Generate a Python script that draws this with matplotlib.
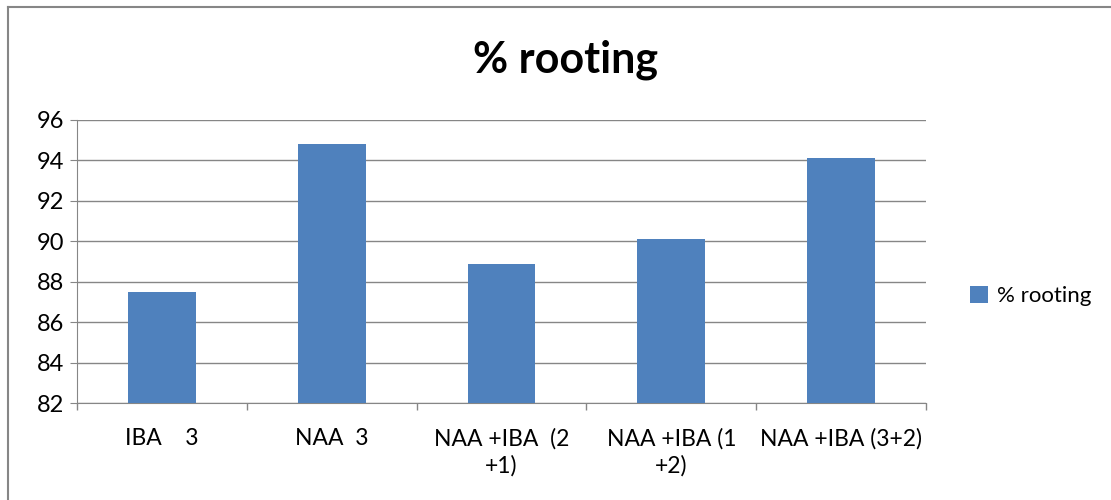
import matplotlib.pyplot as plt
from matplotlib.lines import Line2D

plt.rcParams['font.family'] = ['Lato', 'DejaVu Sans']

categories = ['IBA    3', 'NAA  3', 'NAA +IBA  (2\n+1)', 'NAA +IBA (1\n+2)', 'NAA +IBA (3+2)']
rooting = [87.5, 94.8, 88.9, 90.1, 94.1]

bar_color = '#4F81BD'
grid_color = '#868686'

fig = plt.figure(figsize=(11.11, 5), dpi=100)
ax = fig.add_axes([0.0693, 0.194, 0.7642, 0.566])

x = range(len(categories))
ax.bar(x, rooting, width=0.4, color=bar_color, label='% rooting', zorder=3)

ax.set_xlim(-0.5, len(categories) - 0.5)
ax.set_ylim(82, 96)
ax.set_yticks(range(82, 97, 2))
ax.tick_params(axis='y', labelsize=17, length=5, color=grid_color, pad=4)
ax.yaxis.grid(True, color=grid_color, linewidth=1, zorder=0)

# category labels at centres, tick marks on the boundaries
ax.set_xticks(list(x))
ax.set_xticklabels(categories, fontsize=16.5, linespacing=1.3, va='top')
ax.tick_params(axis='x', length=0, pad=18)
ax.set_xticks([i - 0.5 for i in range(len(categories) + 1)], minor=True)
ax.tick_params(axis='x', which='minor', length=5, color=grid_color, width=1)

for side in ['top', 'right']:
    ax.spines[side].set_visible(False)
ax.spines['left'].set_color(grid_color)
ax.spines['bottom'].set_color(grid_color)

fig.text(0.509, 0.88, '% rooting', ha='center', va='center',
         fontsize=31, fontweight='bold')

fig.legend(loc='center left', bbox_to_anchor=(0.855, 0.408), frameon=False,
           fontsize=16, handlelength=0.8, handleheight=0.8, handletextpad=0.4)

# outer chart border
fig.add_artist(Line2D([0.0072, 0.0072], [0.0, 0.986], color=grid_color, linewidth=1.5))
fig.add_artist(Line2D([0.0072, 1.0], [0.986, 0.986], color=grid_color, linewidth=1.5))

fig.savefig('out.png', dpi=100)
